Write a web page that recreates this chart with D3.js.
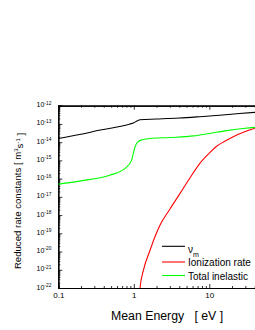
<!DOCTYPE html>
<html>
<head>
<meta charset="utf-8">
<script src="https://cdn.jsdelivr.net/npm/d3@7"></script>
<style>
    body { margin: 0; background: #fff; overflow: hidden; }
    svg { display: block; font-family: Arial, "Liberation Sans", sans-serif; }
</style>
</head>
<body>
<div id="chart"></div>
<script>
(function () {
    'use strict';

    // momentum transfer rate (black)
    var nuEnergy = [0.1, 0.2, 0.36, 0.6, 0.89, 1.0, 1.1, 1.21, 2, 4, 7.5, 15, 25, 40, 50],
        nuRate = [1.6e-14, 2.7e-14, 4.6e-14, 6.8e-14, 1.0e-13, 1.15e-13, 1.45e-13, 1.7e-13, 1.85e-13, 2.1e-13, 2.5e-13, 3.1e-13, 3.7e-13, 4.3e-13, 4.6e-13],
        // ionization rate (red)
        ionEnergy = [1.19, 1.21, 1.34, 1.64, 1.9, 2.22, 3, 4.1, 5.5, 7.5, 10, 12.5, 16, 20.8, 30, 40, 50],
        ionRate = [1e-24, 1e-22, 9.3e-22, 1.17e-20, 6.3e-20, 2.8e-19, 2.1e-18, 1.55e-17, 1.05e-16, 6.9e-16, 2.5e-15, 6e-15, 1.12e-14, 2.0e-14, 3.8e-14, 5.75e-14, 7.9e-14],
        // total inelastic rate (green)
        inelEnergy = [0.1, 0.2, 0.48, 0.72, 0.8, 0.88, 0.94, 0.99, 1.04, 1.09, 1.14, 1.25, 1.63, 3, 6.2, 10, 17, 28, 40, 50],
        inelRate = [5e-17, 7.5e-17, 1.55e-16, 3e-16, 4.3e-16, 6.5e-16, 1.1e-15, 2.6e-15, 5.6e-15, 8.5e-15, 1.05e-14, 1.3e-14, 1.6e-14, 1.8e-14, 2.2e-14, 3e-14, 4.3e-14, 5.6e-14, 6.5e-14, 7e-14],

        xTicks = [0.1, 1, 10],
        xTickLabels = ['0.1', '1', '10'],
        yExponents = [-12, -13, -14, -15, -16, -17, -18, -19, -20, -21, -22],
        legendLabels = ['\u03bd', 'Ionization rate', 'Total inelastic'],
        colors = ['#000000', '#ff0000', '#00ff00'],

        width = 255,
        height = 330,
        left = 58.3,
        top = 105.7,
        bottom = 288,
        decade = 75.5,

        svg = d3.select('#chart')
            .append('svg')
            .attr('width', width)
            .attr('height', height),

        x = d3.scaleLog()
            .domain([0.1, 100])
            .range([left, left + decade * 3]),

        y = d3.scaleLog()
            .domain([1e-22, 1e-12])
            .range([bottom, top]),

        minorX = [],
        minorY = [],
        i,
        k;

    for (i = -1; i < 2; i += 1) {
        for (k = 2; k < 10; k += 1) {
            minorX.push(k * Math.pow(10, i));
        }
    }
    for (i = -22; i < -12; i += 1) {
        for (k = 2; k < 10; k += 1) {
            minorY.push(k * Math.pow(10, i));
        }
    }

    svg.append('clipPath')
        .attr('id', 'plotClip')
        .append('rect')
        .attr('x', left)
        .attr('y', top)
        .attr('width', width - left)
        .attr('height', bottom - top);

    function styleAxis(g) {
        g.select('.domain').attr('stroke', '#000').attr('stroke-width', 1.2);
        g.selectAll('.tick line').attr('stroke', '#000').attr('stroke-width', 0.8);
    }

    // bottom axis
    svg.append('g')
        .attr('transform', 'translate(0,' + bottom + ')')
        .call(d3.axisBottom(x).tickValues(minorX).tickSize(-2).tickFormat(''))
        .call(styleAxis);
    svg.append('g')
        .attr('transform', 'translate(0,' + bottom + ')')
        .call(d3.axisBottom(x).tickValues(xTicks).tickSize(-4).tickPadding(4)
            .tickFormat(function (d, idx) { return xTickLabels[idx]; }))
        .call(styleAxis)
        .call(function (g) {
            g.selectAll('text')
                .attr('fill', '#000')
                .style('font-size', '8px');
        });

    // top axis
    svg.append('g')
        .attr('transform', 'translate(0,' + top + ')')
        .call(d3.axisTop(x).tickValues(minorX).tickSize(-2).tickFormat(''))
        .call(styleAxis);
    svg.append('g')
        .attr('transform', 'translate(0,' + top + ')')
        .call(d3.axisTop(x).tickValues(xTicks).tickSize(-4).tickFormat(''))
        .call(styleAxis);

    // left axis
    svg.append('g')
        .attr('transform', 'translate(' + left + ',0)')
        .call(d3.axisLeft(y).tickValues(minorY).tickSize(-2).tickFormat(''))
        .call(styleAxis);
    svg.append('g')
        .attr('transform', 'translate(' + left + ',0)')
        .call(d3.axisLeft(y).tickValues(yExponents.map(function (e) { return Math.pow(10, e); }))
            .tickSize(-4).tickPadding(7).tickFormat(''))
        .call(styleAxis)
        .call(function (g) {
            g.selectAll('.tick text').each(function (d, idx) {
                var t = d3.select(this)
                    .attr('fill', '#000')
                    .attr('dy', '0.15em')
                    .attr('x', -7)
                    .style('font-size', '7px');
                t.append('tspan').text('10');
                t.append('tspan')
                    .attr('dy', '-0.55em')
                    .style('font-size', '4.8px')
                    .text(yExponents[idx]);
            });
        });

    // curves
    var line = d3.line()
            .x(function (d) { return x(d[0]); })
            .y(function (d) { return y(d[1]); })
            .curve(d3.curveMonotoneX),
        plot = svg.append('g').attr('clip-path', 'url(#plotClip)');

    [[nuEnergy, nuRate], [ionEnergy, ionRate], [inelEnergy, inelRate]].forEach(function (s, idx) {
        plot.append('path')
            .datum(d3.zip(s[0], s[1]))
            .attr('d', line)
            .attr('fill', 'none')
            .attr('stroke', colors[idx])
            .attr('stroke-width', 1.1);
    });

    // legend
    var legendY = [246.3, 262, 275.5],
        legendBase = [253, 266.3, 279.6];
    legendLabels.forEach(function (lab, idx) {
        svg.append('line')
            .attr('x1', 162).attr('x2', 185)
            .attr('y1', legendY[idx]).attr('y2', legendY[idx])
            .attr('stroke', colors[idx])
            .attr('stroke-width', 1.1);
        var t = svg.append('text')
            .attr('x', 188)
            .attr('y', legendBase[idx])
            .style('font-size', '10px')
            .text(lab);
        if (idx === 0) {
            t.append('tspan').attr('dy', '0.55em').style('font-size', '7px').text('m');
        }
    });

    // axis titles
    svg.append('text')
        .attr('x', 111)
        .attr('y', 320)
        .style('font-size', '12.3px')
        .attr('xml:space', 'preserve')
        .text('Mean Energy   [ eV ]');

    var yTitle = svg.append('text')
        .attr('transform', 'translate(21,201) rotate(-90)')
        .attr('text-anchor', 'middle')
        .attr('xml:space', 'preserve')
        .style('font-size', '9.6px');
    yTitle.append('tspan').text('Reduced rate constants [ m');
    yTitle.append('tspan').attr('dy', '-0.45em').style('font-size', '6px').text('3');
    yTitle.append('tspan').attr('dy', '0.45em').text('s');
    yTitle.append('tspan').attr('dy', '-0.45em').style('font-size', '6px').text('-1');
    yTitle.append('tspan').attr('dy', '0.45em').text(' ]');
}());
</script>
</body>
</html>
